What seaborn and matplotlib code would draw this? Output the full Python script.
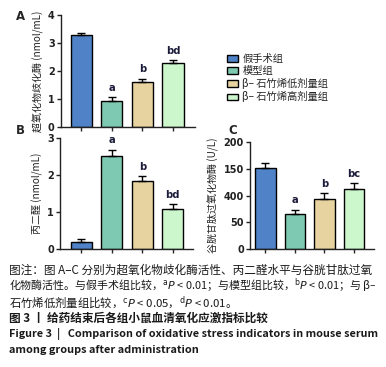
import matplotlib
matplotlib.use("Agg")
import matplotlib.pyplot as plt
from matplotlib.patches import Patch
import seaborn as sns
import pandas as pd

# ---- data ----
groups = ["假手术组", "模型组", "β– 石竹烯低剂量组", "β– 石竹烯高剂量组"]
colors = ["#4f82c6", "#7ec9b1", "#e6d3a0", "#ccf7cc"]

sod_mean = [3.29, 0.94, 1.60, 2.29]
sod_err = [0.07, 0.13, 0.12, 0.10]
sod_sig = ["", "a", "b", "bd"]

mda_mean = [0.19, 2.52, 1.83, 1.09]
mda_err = [0.08, 0.16, 0.14, 0.12]
mda_sig = ["", "a", "b", "bd"]

gsh_mean = [150.5, 65.0, 93.0, 111.5]
gsh_err = [9.5, 8.6, 11.6, 11.2]
gsh_sig = ["", "a", "b", "bc"]

sod_ticks = [0, 1, 2, 3, 4]
mda_ticks = [0, 1, 2, 3]
gsh_ticks = [0, 50, 100, 150, 200]
gsh_ticklabels = ["0", "50", "400", "150", "200"]

sns.set_theme(style="ticks")
plt.rcParams["font.family"] = ["Noto Sans CJK SC", "DejaVu Sans"]
plt.rcParams["mathtext.fontset"] = "dejavusans"

W, H = 386, 367
fig = plt.figure(figsize=(W / 100, H / 100), dpi=100)


def px_axes(l, r, t, b):
    return fig.add_axes([l / W, 1 - b / H, (r - l) / W, (b - t) / H])


def panel(ax, means, errs, sigs, ticks, ylabel, xlim, ylim, ticklabels=None, sig_off=0.04):
    df = pd.DataFrame({"g": groups, "v": means})
    sns.barplot(data=df, x="g", y="v", hue="g", order=groups, hue_order=groups,
                palette=colors, errorbar=None, width=0.69, edgecolor="black",
                linewidth=1.0, legend=False, ax=ax, saturation=1)
    ax.errorbar(range(len(groups)), means, yerr=[[0] * len(errs), errs], fmt="none",
                ecolor="black", elinewidth=1.0, capsize=3.2, capthick=1.0, zorder=5)
    span = ylim[1] - ylim[0]
    for i, (m, e, s) in enumerate(zip(means, errs, sigs)):
        if s:
            ax.text(i, m + e + span * sig_off, s, ha="center", va="bottom",
                    fontsize=7.2, fontweight="bold", color="#1b1b3a",
                    family="DejaVu Sans")
    ax.set_xlim(*xlim)
    ax.set_ylim(*ylim)
    ax.set_yticks(ticks)
    if ticklabels is not None:
        ax.set_yticklabels(ticklabels)
    ax.set_xticks(range(len(groups)))
    ax.set_xticklabels([])
    ax.set_xlabel("")
    ax.set_ylabel(ylabel, fontsize=7.2, labelpad=3, color="#222222")
    for lab in ax.get_yticklabels():
        lab.set_fontweight("bold")
        lab.set_family("DejaVu Sans")
    ax.tick_params(axis="y", length=3, width=1.0, labelsize=7, pad=1.5, colors="#222222")
    ax.tick_params(axis="x", length=3, width=1.0)
    for sp in ["left", "bottom"]:
        ax.spines[sp].set_linewidth(1.0)
        ax.spines[sp].set_color("#222222")
    sns.despine(ax=ax)
    ax.set_facecolor("white")


axA = px_axes(61, 195, 15, 127)
panel(axA, sod_mean, sod_err, sod_sig, sod_ticks, "超氧化物歧化酶 (nmol/mL)",
      (-0.66, 3.72), (0, 4))
axB = px_axes(60, 193, 138, 249)
panel(axB, mda_mean, mda_err, mda_sig, mda_ticks, "丙二醛 (nmol/mL)",
      (-0.70, 3.66), (0, 3))
axC = px_axes(250, 374, 142, 249)
panel(axC, gsh_mean, gsh_err, gsh_sig, gsh_ticks, "谷胱甘肽过氧化物酶 (U/L)",
      (-0.52, 3.68), (0, 200), ticklabels=gsh_ticklabels)

for lab, x, y in [("A", 16, 17), ("B", 16, 130), ("C", 228, 130)]:
    fig.text(x / W, 1 - y / H, lab, fontsize=8.5, fontweight="bold",
             ha="left", va="center", family="DejaVu Sans")

handles = [Patch(facecolor=c, edgecolor="black", linewidth=1.0) for c in colors]
fig.legend(handles, groups, loc="upper left", bbox_to_anchor=(227 / W, 1 - 54 / H),
           frameon=False, fontsize=7.4, handlelength=1.1, handleheight=0.6,
           handletextpad=0.4, labelspacing=0.2, borderaxespad=0, borderpad=0)

cap_color = "#1a1a1a"
lines = [
    (270, "图注：图 A–C 分别为超氧化物歧化酶活性、丙二醛水平与谷胱甘肽过氧", "normal", 8.4),
    (286, "化物酶活性。与假手术组比较，$^{\\mathrm{a}}P$ < 0.01；与模型组比较，$^{\\mathrm{b}}P$ < 0.01；与 β–", "normal", 7.9),
    (302, "石竹烯低剂量组比较，$^{\\mathrm{c}}P$ < 0.05，$^{\\mathrm{d}}P$ < 0.01。", "normal", 8.2),
    (318, "图 3 丨 给药结束后各组小鼠血清氧化应激指标比较", "bold", 8.4),
    (334, "Figure 3  |   Comparison of oxidative stress indicators in mouse serum", "bold", 7.8),
    (350, "among groups after administration", "bold", 7.9),
]
for y, t, w, fs in lines:
    fig.text(9 / W, 1 - y / H, t, fontsize=fs, fontweight=w, ha="left",
             va="center", color=cap_color)

fig.savefig("out.png", dpi=100, facecolor="white")
